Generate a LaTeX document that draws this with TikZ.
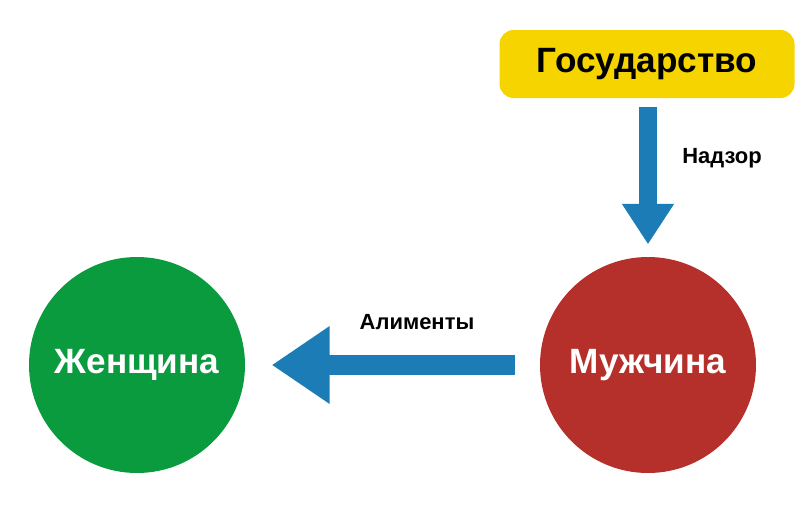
\documentclass[tikz,border=0pt]{standalone}
\usepackage{fontspec}
\setmainfont{Liberation Sans}
\usetikzlibrary{arrows.meta}
\definecolor{gov}{HTML}{F5D400}
\definecolor{man}{HTML}{B5302A}
\definecolor{wom}{HTML}{0A9B3F}
\definecolor{arr}{HTML}{1C7DB6}
\begin{document}
\begin{tikzpicture}[x=0.02cm,y=-0.02cm,
  circ/.style={circle,minimum size=216*0.02cm,inner sep=0pt,text=white,font=\bfseries\fontsize{20}{24}\selectfont},
  lbl/.style={font=\bfseries\fontsize{12.5}{15}\selectfont},
  bigarrow/.style={arr,line width=#1}]
\useasboundingbox (0,0) rectangle (809,514);
\node[fill=gov,rounded corners=8pt,minimum width=295*0.02cm,minimum height=68*0.02cm,font=\bfseries\fontsize{20}{24}\selectfont] (gov) at (647,64) {Государство};
\node[circ,fill=man] (man) at (648,365) {Мужчина};
\node[circ,fill=wom] (wom) at (137,365) {Женщина};
\draw[bigarrow=10pt,-{Triangle[width=28pt,length=23pt]},shorten <=5pt,shorten >=7pt] (gov.south -| man) -- (man.north);
\draw[bigarrow=11pt,-{Triangle[width=42pt,length=33pt]},shorten <=14pt,shorten >=15pt] (man.west) -- (wom.east);
\node[lbl] (nadzor) at (722,158) {Надзор};
\node[lbl] (alim) at (417,322) {Алименты};
\end{tikzpicture}
\end{document}
